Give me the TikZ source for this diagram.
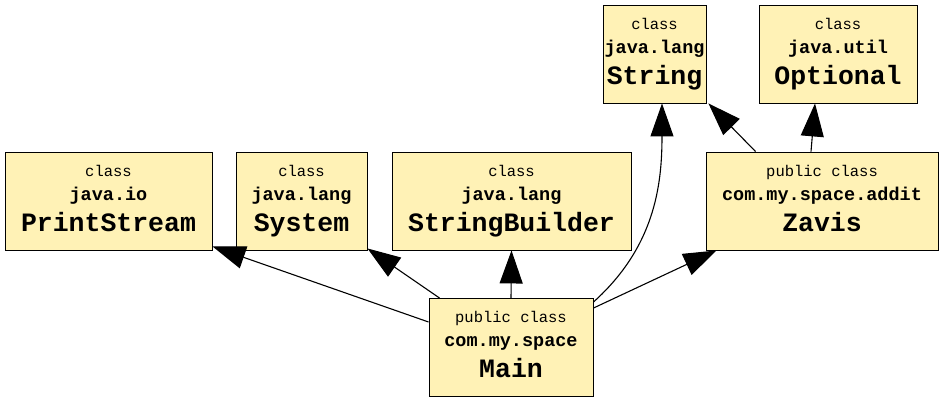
\documentclass[tikz,border=0pt]{standalone}
\usepackage{fontspec}
\setmonofont{Liberation Mono}
\usetikzlibrary{arrows.meta}
\definecolor{javafill}{RGB}{255,242,182}
\newcommand{\javacls}[3]{\rule{0pt}{10pt}#1\\{\bfseries\fontsize{18.5}{24}\selectfont #2}\\[7pt]{\bfseries\fontsize{26.5}{31}\selectfont #3\rule[-6pt]{0pt}{6pt}}}
\begin{document}
\begin{tikzpicture}[x=1pt,y=-1pt]
\useasboundingbox (0,0) rectangle (944,403);
\begin{scope}[every node/.style = {draw, fill=javafill, line width=0.9pt, minimum height=98pt, inner sep=0pt, align=center, font=\ttfamily\fontsize{15.5}{24}\selectfont}]
\node[minimum width=207pt] (ps) at (108.5, 201) {\javacls{class}{java.io}{PrintStream}};
\node[minimum width=131pt] (sys) at (301.5, 201) {\javacls{class}{java.lang}{System}};
\node[minimum width=239pt] (sb) at (511.5, 201) {\javacls{class}{java.lang}{StringBuilder}};
\node[minimum width=232pt] (zav) at (822, 201) {\javacls{public class}{com.my.space.addit}{Zavis}};
\node[minimum width=103pt] (str) at (654.5, 54) {\javacls{class}{java.lang}{String}};
\node[minimum width=158pt] (opt) at (838, 54) {\javacls{class}{java.util}{Optional}};
\node[minimum width=164pt] (main) at (511, 347.5) {\javacls{public class}{com.my.space}{Main}};
\end{scope}
\begin{scope}[every edge/.style = {draw, line width=1.1pt, -{Triangle[length=33pt, width=23pt]}}]
\path ([yshift=25.5pt]main.west) edge ([yshift=4pt]ps.south east);
\path ([xshift=11pt]main.north west) edge ([yshift=2pt]sys.south east);
\path (main.north) edge (sb.south);
\path ([yshift=-4pt]main.north east) edge[out=42, in=-90] ([xshift=7.5pt]str.south);
\path ([yshift=-10pt]main.north east) edge ([xshift=11pt]zav.south west);
\path ([xshift=50pt]zav.north west) edge ([xshift=2pt]str.south east);
\path ([xshift=-11pt]zav.north) edge ([xshift=-23pt]opt.south);
\end{scope}
\end{tikzpicture}
\end{document}
